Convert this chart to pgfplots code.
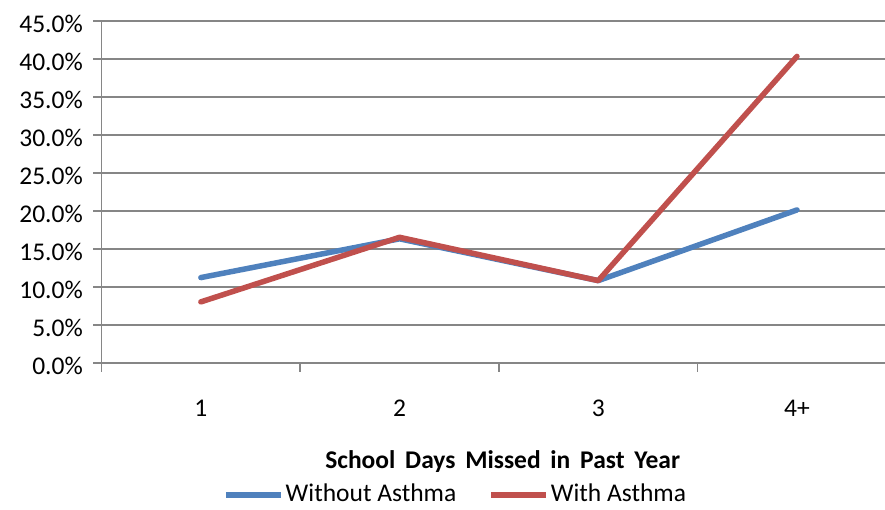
\documentclass[border=0pt]{standalone}
\usepackage{pgfplots}
\pgfplotsset{compat=1.18}
\usepackage{fontspec}
\setmainfont{Carlito}
\definecolor{xlblue}{HTML}{4F81BD}
\definecolor{xlred}{HTML}{C0504D}
\definecolor{gridgray}{HTML}{868686}
\begin{document}
\fontsize{25.5}{30}\selectfont
\begin{tikzpicture}
\path[use as bounding box] (-101.5pt,-147.3pt) rectangle (783.5pt,362.7pt);
\begin{axis}
[
    scale only axis,
    width=783.5pt, height=342pt,
    xmin=0.5, xmax=4.443,
    ymin=0, ymax=45,
    xtick={1,2,3,4},
    xticklabels={1,2,3,4+},
    minor xtick={0.5,1.5,2.5,3.5},
    ytick={0,5,10,15,20,25,30,35,40,45},
    yticklabel={\pgfmathprintnumber[fixed,fixed zerofill,precision=1]{\tick}\%},
    /pgf/number format/assume math mode=true,
    tick align=outside,
    major tick length=8pt,
    minor tick length=9pt,
    xtick style={draw=none},
    minor x tick style={draw=gridgray, line width=1.7pt},
    ytick style={draw=gridgray, line width=1.7pt},
    axis x line*=bottom,
    axis y line*=left,
    axis line style={draw=gridgray, line width=1.7pt, -},
    ymajorgrids=true,
    grid style={draw=gridgray, line width=1.7pt},
    tick label style={font=\fontsize{25.5}{30}\selectfont},
    xticklabel style={yshift=-21pt},
    yticklabel style={xshift=-2pt, yshift=-3pt},
    xlabel={\textbf{School\hspace{4pt} Days\hspace{4pt} Missed\hspace{4pt} in\hspace{4pt} Past\hspace{4pt} Year}},
    xlabel style={at={(axis description cs:0.512,-0.290)}, anchor=center, font=\fontsize{25.5}{30}\selectfont},
    legend columns=2,
    legend style={draw=none, fill=none, at={(axis description cs:0.452,-0.387)}, anchor=center,
        font=\fontsize{25.5}{30}\selectfont,
        /tikz/every even column/.append style={column sep=30pt}},
    legend image code/.code={\draw[#1, line cap=butt] (0pt,0pt) -- (55pt,0pt);},
]
\addplot[color=xlblue, line width=5.5pt, line cap=round, line join=round]
    coordinates {(1,11.2)(2,16.3)(3,10.8)(4,20.1)};
\addlegendentry{Without Asthma}
\addplot[color=xlred, line width=5.5pt, line cap=round, line join=round]
    coordinates {(1,8.0)(2,16.5)(3,10.8)(4,40.3)};
\addlegendentry{With Asthma}
\end{axis}
\end{tikzpicture}
\end{document}
